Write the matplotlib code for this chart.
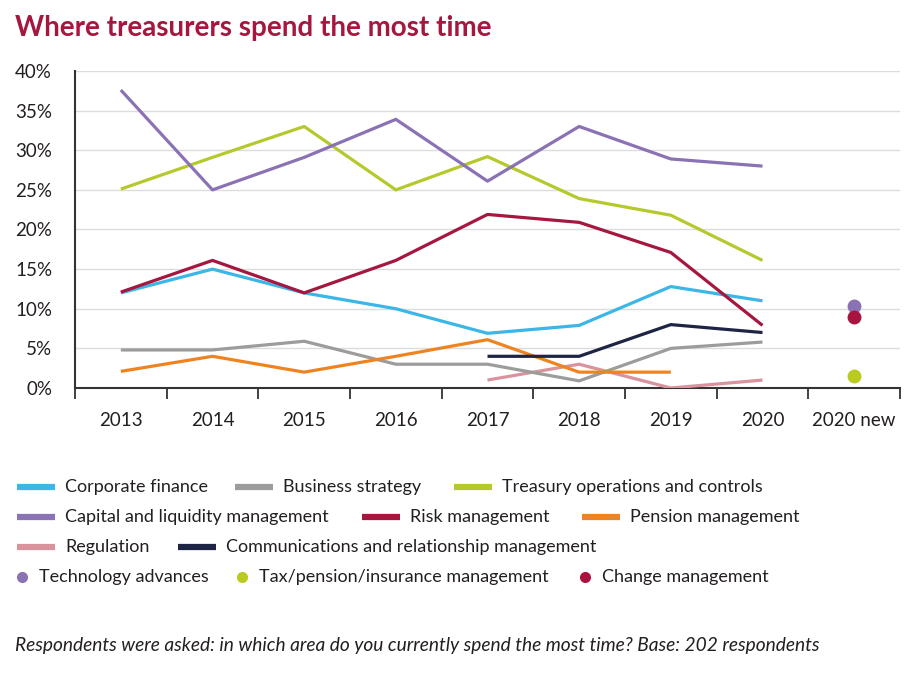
import numpy as np
import matplotlib
matplotlib.use("Agg")
import matplotlib.pyplot as plt
from matplotlib.lines import Line2D

plt.rcParams['font.family'] = ['Lato', 'DejaVu Sans']

categories = ["2013", "2014", "2015", "2016", "2017", "2018", "2019", "2020", "2020 new"]
nan = np.nan

corporate_finance = [12.0, 15.0, 12.0, 10.0, 6.9, 7.9, 12.8, 11.0]
business_strategy = [4.8, 4.8, 5.9, 3.0, 3.0, 0.9, 5.0, 5.8]
treasury_ops = [25.1, 29.1, 33.0, 25.0, 29.2, 23.9, 21.8, 16.1]
capital_liquidity = [37.6, 25.0, 29.1, 33.9, 26.1, 33.0, 28.9, 28.0]
risk_management = [12.1, 16.1, 12.0, 16.1, 21.9, 20.9, 17.1, 7.9]
pension_management = [2.1, 4.0, 2.0, 4.0, 6.1, 2.0, 2.0, nan]
regulation = [nan, nan, nan, nan, 1.0, 3.0, 0.0, 1.0]
communications = [nan, nan, nan, nan, 4.0, 4.0, 8.0, 7.0]

technology_advances = 10.3
tax_pension_insurance = 1.5
change_management = 9.0

line_series = [
    ("Corporate finance", corporate_finance, "#3bb6e6"),
    ("Business strategy", business_strategy, "#9c9c9b"),
    ("Treasury operations and controls", treasury_ops, "#b6c92c"),
    ("Capital and liquidity management", capital_liquidity, "#8a72b4"),
    ("Risk management", risk_management, "#a5173f"),
    ("Pension management", pension_management, "#ee8421"),
    ("Regulation", regulation, "#d8939c"),
    ("Communications and relationship management", communications, "#1d2444"),
]
dot_series = [
    ("Technology advances", technology_advances, "#8a72b4"),
    ("Tax/pension/insurance management", tax_pension_insurance, "#b9cb1f"),
    ("Change management", change_management, "#a8133f"),
]

W, H = 921, 673
fig = plt.figure(figsize=(W / 100, H / 100), dpi=100)
ax = fig.add_axes([75 / W, 1 - 388 / H, (900 - 75) / W, (388 - 71) / H])

x = np.arange(len(categories) - 1)
draw_order = [6, 1, 5, 7, 0, 4, 2, 3]
for i in draw_order:
    name, vals, col = line_series[i]
    ax.plot(x, vals, color=col, lw=2.3, solid_capstyle='butt', zorder=3)
for name, val, col in dot_series:
    ax.plot([len(categories) - 1], [val], 'o', color=col, ms=10, mec='none', zorder=4)

ax.set_xlim(-0.5, len(categories) - 0.5)
ax.set_ylim(0, 40)
ax.set_yticks(np.arange(0, 41, 5))
ax.set_yticklabels([f"{v}%" for v in range(0, 41, 5)], fontsize=13.5, color="#231f20")
ax.tick_params(axis='y', length=0, pad=16.5)
ax.yaxis.grid(True, color="#dcdcdc", lw=1)
ax.set_axisbelow(True)

ax.set_xticks(np.arange(-0.5, len(categories), 1))
ax.set_xticklabels([])
ax.tick_params(axis='x', which='major', length=8, width=1.3, color="#333333", direction='out')
ax.set_xticks(np.arange(len(categories)), minor=True)
ax.set_xticklabels(categories, minor=True, fontsize=13.5, color="#231f20")
ax.tick_params(axis='x', which='minor', length=0, pad=17)

for s in ['top', 'right']:
    ax.spines[s].set_visible(False)
for s in ['left', 'bottom']:
    ax.spines[s].set_color("#333333")
    ax.spines[s].set_linewidth(1.5)

fig.text(15 / W, 1 - 28 / H, "Where treasurers spend the most time", fontsize=20,
         fontweight='bold', color="#a5173f", va='center', ha='left')

# legend
def px(xp, yp):
    return xp / W, 1 - yp / H

legend_layout = [
    (0, 17, 487), (1, 235, 487), (2, 454, 487),
    (3, 17, 517), (4, 362, 517), (5, 582, 517),
    (6, 17, 547), (7, 178, 547),
]
for idx, xp, yp in legend_layout:
    name, vals, col = line_series[idx]
    x0, y0 = px(xp, yp)
    x1, _ = px(xp + 38, yp)
    fig.add_artist(Line2D([x0, x1], [y0, y0], color=col, lw=4.5, solid_capstyle='butt'))
    tx, ty = px(xp + 48, yp)
    fig.text(tx, ty, name, fontsize=13, color="#231f20", va='center', ha='left')

dot_layout = [(0, 22, 577), (1, 242, 577), (2, 585, 577)]
for idx, xp, yp in dot_layout:
    name, val, col = dot_series[idx]
    x0, y0 = px(xp, yp)
    fig.add_artist(Line2D([x0], [y0], marker='o', color=col, ms=8, mec='none', ls='none'))
    tx, ty = px(xp + 17, yp)
    fig.text(tx, ty, name, fontsize=13, color="#231f20", va='center', ha='left')

fx, fy = px(15, 646)
fig.text(fx, fy, "Respondents were asked: in which area do you currently spend the most time? Base: 202 respondents",
         fontsize=13.8, style='italic', color="#231f20", va='center', ha='left')

fig.savefig("out.png", dpi=100, facecolor='white')
